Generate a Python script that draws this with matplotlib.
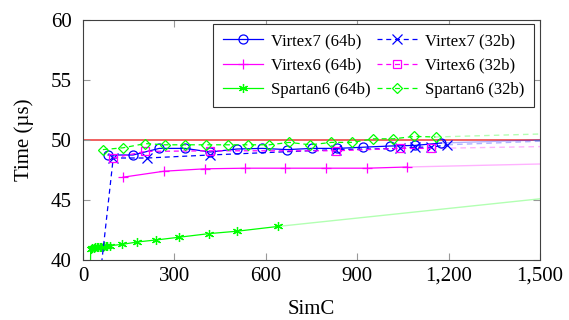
import matplotlib
matplotlib.use("Agg")
import matplotlib.pyplot as plt
from matplotlib.ticker import FuncFormatter

plt.rcParams["font.family"] = ["Liberation Serif", "DejaVu Serif"]

# ---------------------------------------------------------------------------
# Data
# ---------------------------------------------------------------------------
v7_64_x = [82, 164, 250, 335, 417, 506, 588, 670, 752, 835, 920, 1009, 1091, 1176]
v7_64_y = [48.75, 48.75, 49.3, 49.3, 49.0, 49.25, 49.3, 49.2, 49.3, 49.3, 49.4, 49.5, 49.55, 49.75]

v7_32_x = [45, 99, 210, 417, 831, 1042, 1091, 1143, 1196]
v7_32_y = [36.1, 48.5, 48.5, 48.75, 49.2, 49.3, 49.4, 49.4, 49.6]

v6_64_x = [131, 266, 401, 532, 664, 798, 933, 1065]
v6_64_y = [46.9, 47.4, 47.6, 47.65, 47.65, 47.65, 47.65, 47.75]

v6_32_x = [99, 204, 417, 831, 1042, 1143]
v6_32_y = [48.5, 49.05, 49.1, 49.1, 49.3, 49.3]

s6_64_x = [22, 25, 30, 35, 40, 45, 50, 55, 60, 65, 70, 75, 80, 90,
           128, 177, 240, 316, 414, 506, 641]
s6_64_y = [35.0, 40.95, 41.0, 41.0, 41.05, 41.05, 41.05, 41.1, 41.1, 41.1,
           41.15, 41.15, 41.15, 41.2, 41.3, 41.5, 41.67, 41.9, 42.2, 42.4, 42.8]

s6_32_x = [65, 131, 204, 270, 335, 405, 477, 542, 611, 677, 746, 815, 884,
           953, 1019, 1088, 1157]
s6_32_y = [49.2, 49.35, 49.7, 49.6, 49.6, 49.6, 49.6, 49.6, 49.6, 49.8, 49.6,
           49.8, 49.8, 50.1, 50.1, 50.3, 50.25]

# faint continuation of each series up to the axis end
tail_x_end = 1500
tail_y_end = {
    "v7_64": 50.0,
    "v7_32": 49.9,
    "v6_64": 48.0,
    "v6_32": 49.45,
    "s6_64": 45.1,
    "s6_32": 50.5,
}

deadline = 50

# ---------------------------------------------------------------------------
# Plot
# ---------------------------------------------------------------------------
fig = plt.figure(figsize=(5.69, 3.2), dpi=100)
ax = fig.add_axes([0.146, 0.1875, 0.803, 0.75])

ax.axhline(deadline, color="#f06060", linewidth=1.4, zorder=1)

dash = (0, (4, 3))
series = [
    ("v7_64", v7_64_x, v7_64_y, "#0000ff", "-", "o", "Virtex7 (64b)"),
    ("v6_64", v6_64_x, v6_64_y, "#ff00ff", "-", "+", "Virtex6 (64b)"),
    ("s6_64", s6_64_x, s6_64_y, "#00ff00", "-", (6, 2, 0), "Spartan6 (64b)"),
    ("v7_32", v7_32_x, v7_32_y, "#0000ff", dash, "x", "Virtex7 (32b)"),
    ("v6_32", v6_32_x, v6_32_y, "#ff00ff", dash, "s", "Virtex6 (32b)"),
    ("s6_32", s6_32_x, s6_32_y, "#00ff00", dash, "D", "Spartan6 (32b)"),
]

handles = []
for key, xs, ys, color, ls, mk, label in series:
    ms = 6.5 if mk != "D" else 5
    if mk == "s":
        ms = 6
    ax.plot([xs[-1], tail_x_end], [ys[-1], tail_y_end[key]], color=color,
            linestyle=ls, linewidth=1.0, alpha=0.3, zorder=2)
    h, = ax.plot(xs, ys, color=color, linestyle=ls, linewidth=0.9,
                 marker=mk, markersize=ms, markerfacecolor="none",
                 markeredgecolor=color, markeredgewidth=0.9, label=label,
                 zorder=3)
    handles.append(h)

ax.set_xlim(0, 1500)
ax.set_ylim(40, 60)
ax.set_xticks([0, 300, 600, 900, 1200, 1500])
ax.set_yticks([40, 45, 50, 55, 60])
ax.xaxis.set_major_formatter(FuncFormatter(lambda v, p: f"{int(v):,}"))
ax.tick_params(direction="in", length=5, width=0.8, color="#999999",
               labelsize=15, top=True, right=True)
ax.tick_params(axis="x", pad=5)
ax.tick_params(axis="y", pad=8)
for s in ax.spines.values():
    s.set_color("#404040")
    s.set_linewidth(0.8)

ax.set_xlabel("SimC", fontsize=15, labelpad=10)
ax.set_ylabel("Time (µs)", fontsize=15, labelpad=12)

leg = ax.legend(handles=handles, ncol=2, loc="upper right",
                bbox_to_anchor=(0.987, 0.983), borderaxespad=0, fontsize=12,
                frameon=True, fancybox=False, edgecolor="#333333",
                framealpha=1, handlelength=2.4, handletextpad=0.5,
                columnspacing=0.4, labelspacing=0.5, borderpad=0.55,
                markerscale=1.0)
leg.get_frame().set_linewidth(0.8)

fig.savefig("out.png", dpi=100)
